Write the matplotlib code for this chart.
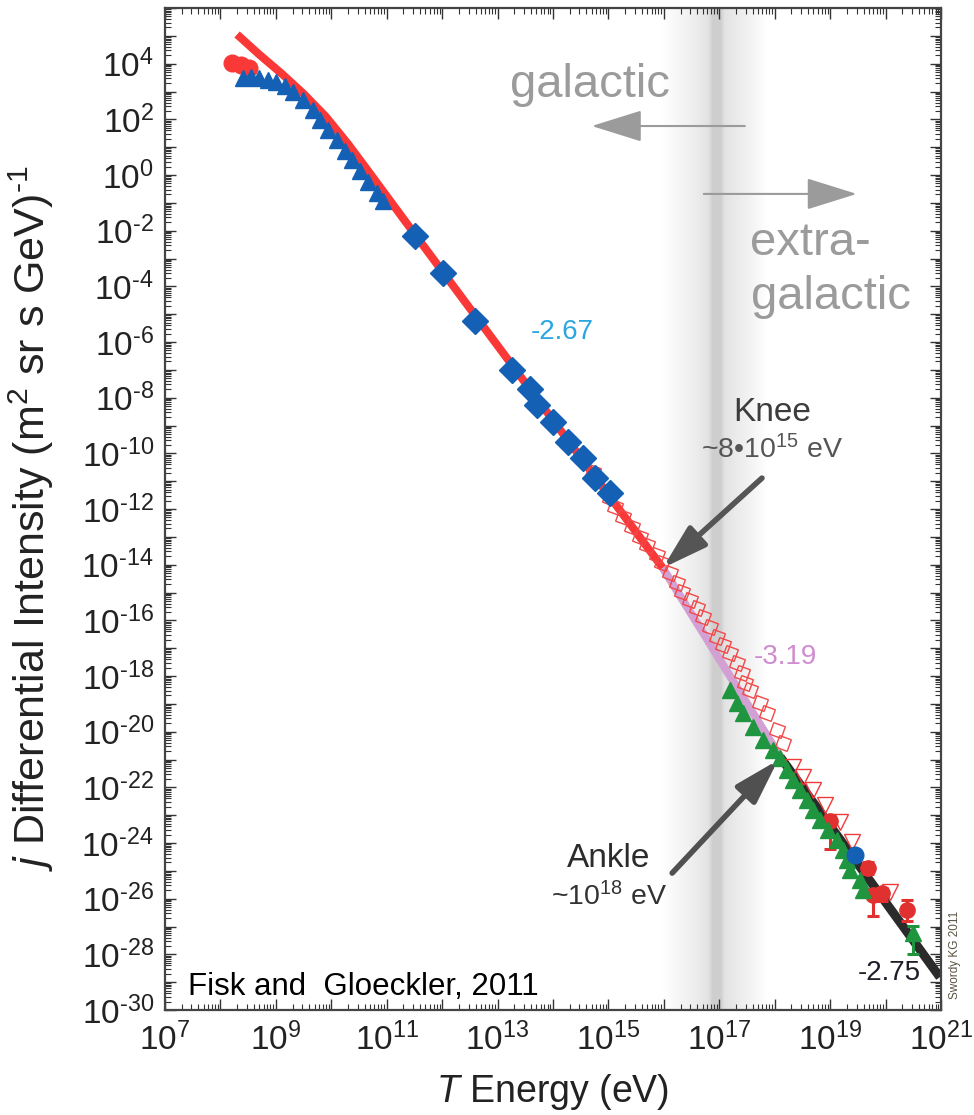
import numpy as np
import matplotlib
matplotlib.use("Agg")
import matplotlib.pyplot as plt
from matplotlib.ticker import LogLocator, FuncFormatter, NullFormatter

plt.rcParams['font.family'] = ['Liberation Sans', 'DejaVu Sans']
plt.rcParams['mathtext.fontset'] = 'custom'
plt.rcParams['mathtext.rm'] = 'Liberation Sans'
plt.rcParams['mathtext.it'] = 'Liberation Sans:italic'
plt.rcParams['mathtext.bf'] = 'Liberation Sans:bold'

# ---- spectrum data (log10 of energy in eV, log10 of intensity) ----
fit_low_logE = [8.30, 8.70, 9.10, 9.50, 9.90, 10.30, 10.70, 11.50, 12.50, 13.50, 14.50, 15.98]
fit_low_logJ = [5.05, 4.33, 3.65, 2.92, 2.10, 1.12, 0.05, -2.11, -4.79, -7.47, -10.15, -14.12]
fit_knee_logE = [15.98, 18.10]
fit_knee_logJ = [-14.12, -20.91]
fit_ankle_logE = [18.10, 20.98]
fit_ankle_logJ = [-20.91, -28.82]

circ_red_logE = [8.20, 8.38, 8.52]
circ_red_logJ = [4.03, 3.95, 3.85]

tri_blue_logE = [8.40, 8.55, 8.70, 8.85, 9.00, 9.16, 9.31, 9.49, 9.67, 9.80,
                 9.94, 10.10, 10.25, 10.37, 10.52, 10.66, 10.82, 10.93]
tri_blue_logJ = [3.50, 3.52, 3.47, 3.42, 3.35, 3.20, 3.00, 2.68, 2.32, 1.98,
                 1.62, 1.25, 0.85, 0.53, 0.15, -0.25, -0.65, -0.92]

dia_blue_logE = [11.51, 12.02, 12.59, 13.26, 13.58, 13.71, 14.00, 14.27, 14.54, 14.76, 15.03]
dia_blue_logJ = [-2.19, -3.52, -5.25, -7.01, -7.69, -8.27, -8.88, -9.60, -10.17, -10.89, -11.43]

sq_red_logE = [14.72, 14.79, 15.03, 15.12, 15.26, 15.43, 15.57, 15.70, 15.88, 15.97,
               16.11, 16.24, 16.33, 16.47, 16.60, 16.71, 16.83, 16.96, 17.07, 17.19,
               17.32, 17.41, 17.46, 17.55, 17.73, 17.86, 18.04, 18.15]
sq_red_logJ = [-10.67, -10.96, -11.61, -11.93, -12.29, -12.65, -13.01, -13.30, -13.65, -13.94,
               -14.30, -14.66, -14.98, -15.27, -15.56, -15.88, -16.24, -16.60, -16.89, -17.18,
               -17.54, -17.89, -18.25, -18.51, -18.97, -19.33, -19.94, -20.41]

tri_green_logE = [17.19, 17.32, 17.43, 17.61, 17.79, 17.97, 18.10, 18.22, 18.33, 18.46,
                  18.58, 18.69, 18.82, 18.96, 19.12, 19.23, 19.30, 19.36, 19.54, 19.59]
tri_green_logJ = [-18.51, -18.97, -19.33, -19.84, -20.30, -20.66, -20.95, -21.38, -21.74, -22.10,
                  -22.46, -22.82, -23.18, -23.54, -23.90, -24.25, -24.61, -24.97, -25.33, -25.69]
tri_green_err_logE = [20.49]
tri_green_err_logJ = [-27.24]
tri_green_err_lo = [0.75]
tri_green_err_hi = [0.25]

dtri_red_logE = [18.33, 18.51, 18.69, 18.91, 19.18, 19.39, 20.08]
dtri_red_logJ = [-21.27, -21.63, -22.10, -22.64, -23.25, -23.97, -25.76]

circ_err_logE = [19.00, 19.68, 19.77, 19.94, 20.39]
circ_err_logJ = [-23.20, -24.90, -25.87, -25.80, -26.41]
circ_err_lo = [1.00, 0.20, 0.75, 0.30, 0.40]
circ_err_hi = [0.20, 0.20, 0.20, 0.20, 0.35]

circ_blue_logE = [19.45]
circ_blue_logJ = [-24.43]


def dex(a):
    return 10.0 ** np.asarray(a, dtype=float)


RED = '#fb3838'
BLUE = '#1460b4'
GREEN = '#1f9540'
PINK = '#d3a0d3'
DARK = '#2b2b2b'
GREY_TXT = '#9b9b9b'

fig = plt.figure(figsize=(9.74, 11.15), dpi=100)
ax = fig.add_axes([165 / 974, 1 - 1010 / 1115, 776 / 974, 1002 / 1115])
ax.set_xscale('log')
ax.set_yscale('log')

# shaded transition band between galactic and extra-galactic origin
lo_band, hi_band = 15.97, 17.86
band_stops = [15.97, 16.50, 16.80, 16.88, 17.03, 17.10, 17.30, 17.55, 17.75, 17.86]
band_dark = [0.00, 0.06, 0.11, 0.19, 0.19, 0.11, 0.08, 0.05, 0.02, 0.00]
grid = np.linspace(lo_band, hi_band, 500)
shade = 1.0 - np.interp(grid, band_stops, band_dark)
img = np.dstack([shade, shade, shade])
x0 = (lo_band - 7) / 14.0
x1 = (hi_band - 7) / 14.0
ax.imshow(img, extent=[x0, x1, 0, 1], transform=ax.transAxes, aspect='auto',
          interpolation='bilinear', zorder=0)

# fitted power laws
ax.plot(dex(fit_low_logE), dex(fit_low_logJ), color=RED, lw=5.8, solid_capstyle='butt', zorder=2)
ax.plot(dex(fit_knee_logE), dex(fit_knee_logJ), color=PINK, lw=5.8, solid_capstyle='butt', zorder=2)
ax.plot(dex(fit_ankle_logE), dex(fit_ankle_logJ), color=DARK, lw=6.5, solid_capstyle='butt', zorder=2)

# measurements
ax.plot(dex(sq_red_logE), dex(sq_red_logJ), linestyle='none', marker=(4, 0, 25), ms=12.5,
        mfc='none', mec='#f24848', mew=1.0, zorder=3)
ax.plot(dex(circ_red_logE), dex(circ_red_logJ), linestyle='none', marker='o', ms=12,
        color=RED, zorder=3)
ax.plot(dex(tri_blue_logE), dex(tri_blue_logJ), linestyle='none', marker='^', ms=12,
        color=BLUE, zorder=4)
ax.plot(dex(dia_blue_logE), dex(dia_blue_logJ), linestyle='none', marker='D', ms=13,
        color=BLUE, zorder=4)
ax.plot(dex(dtri_red_logE), dex(dtri_red_logJ), linestyle='none', marker='v', ms=12,
        mfc='none', mec='#f03a3a', mew=1.0, zorder=3)

ce = np.asarray(circ_err_logJ)
yerr_c = [dex(ce) - dex(ce - np.asarray(circ_err_lo)), dex(ce + np.asarray(circ_err_hi)) - dex(ce)]
ax.errorbar(dex(circ_err_logE), dex(ce), yerr=yerr_c, fmt='o', ms=11, color='#e03030',
            ecolor='#e03030', elinewidth=2.2, capsize=4.5, capthick=2.2, zorder=4)

ax.plot(dex(tri_green_logE), dex(tri_green_logJ), linestyle='none', marker='^', ms=12,
        color=GREEN, zorder=5)
ge = np.asarray(tri_green_err_logJ)
yerr_g = [dex(ge) - dex(ge - np.asarray(tri_green_err_lo)), dex(ge + np.asarray(tri_green_err_hi)) - dex(ge)]
ax.errorbar(dex(tri_green_err_logE), dex(ge), yerr=yerr_g, fmt='^', ms=12, color=GREEN,
            ecolor=GREEN, elinewidth=2.2, capsize=4.5, capthick=2.2, zorder=5)

ax.plot(dex(circ_blue_logE), dex(circ_blue_logJ), linestyle='none', marker='o', ms=12,
        color=BLUE, zorder=6)

# axes, ticks and labels
ax.set_xlim(1e7, 1e21)
ax.set_ylim(1e-30, 1e6)
ax.xaxis.set_major_locator(LogLocator(base=10, numticks=40))
ax.yaxis.set_major_locator(LogLocator(base=10, numticks=60))
ax.xaxis.set_minor_locator(LogLocator(base=10, subs=np.arange(2, 10), numticks=40))
ax.yaxis.set_minor_locator(LogLocator(base=10, subs=np.arange(2, 10), numticks=60))


def power_label(n):
    if n < 0:
        return r'$10^{\text{-}%d}$' % (-n)
    return r'$10^{%d}$' % n


def x_fmt(v, pos):
    n = int(round(np.log10(v)))
    return power_label(n) if n % 2 == 1 else ''


def y_fmt(v, pos):
    n = int(round(np.log10(v)))
    return power_label(n) if (n % 2 == 0 and n <= 4) else ''


ax.xaxis.set_major_formatter(FuncFormatter(x_fmt))
ax.yaxis.set_major_formatter(FuncFormatter(y_fmt))
ax.xaxis.set_minor_formatter(NullFormatter())
ax.yaxis.set_minor_formatter(NullFormatter())
ax.tick_params(which='both', direction='in', top=True, right=True, color='#333333')
ax.tick_params(which='major', length=8, width=1.0, labelsize=24, labelcolor='#222222')
ax.tick_params(which='minor', length=4, width=0.8)
ax.tick_params(axis='y', which='major', pad=8)
ax.tick_params(axis='x', which='major', pad=9)
for s in ax.spines.values():
    s.set_color('#444444')
    s.set_linewidth(1.6)

ax.set_xlabel(r'$\mathit{T}$ Energy (eV)', fontsize=27, color='#222222')
ax.set_ylabel(r'$\mathit{j}$ Differential Intensity (m$^{2}$ sr s GeV)$^{\text{-}1}$', fontsize=31,
              color='#222222')
ax.xaxis.set_label_coords(0.5, -0.062)
ax.yaxis.set_label_coords(-0.140, 0.491)

# annotations
ax.text(dex(14.67), dex(3.23), 'galactic', fontsize=34, color=GREY_TXT, ha='center', va='center')
ax.annotate('', xy=(dex(14.70), dex(1.76)), xytext=(dex(17.46), dex(1.76)),
            arrowprops=dict(arrowstyle='-|>,head_length=1.6,head_width=0.5', color=GREY_TXT,
                            lw=1.5, shrinkA=0, shrinkB=0, mutation_scale=20))
ax.annotate('', xy=(dex(19.48), dex(-0.68)), xytext=(dex(16.72), dex(-0.68)),
            arrowprops=dict(arrowstyle='-|>,head_length=1.6,head_width=0.5', color=GREY_TXT,
                            lw=1.5, shrinkA=0, shrinkB=0, mutation_scale=20))
ax.text(dex(17.55), dex(-2.44), 'extra-', fontsize=34, color=GREY_TXT, ha='left', va='center')
ax.text(dex(17.57), dex(-4.38), 'galactic', fontsize=34, color=GREY_TXT, ha='left', va='center')

ax.text(dex(14.16), dex(-5.64), '-2.67', fontsize=20, color='#2aa6e0', ha='center', va='center',
        zorder=8)
ax.text(dex(18.19), dex(-17.32), '-3.19', fontsize=20, color='#d08cd0', ha='center', va='center',
        zorder=8)
ax.text(dex(20.06), dex(-28.67), '-2.75', fontsize=20, color='#1e1e2a', ha='center', va='center',
        zorder=8)

ax.text(dex(17.95), dex(-8.52), 'Knee', fontsize=24, color='#3c3c3c', ha='center', va='center')
ax.text(dex(17.95), dex(-9.88), r'~8•10$^{15}$ eV', fontsize=20.5, color='#555555',
        ha='center', va='center')
ax.annotate('', xy=(dex(15.98), dex(-14.12)), xytext=(dex(17.77), dex(-10.89)),
            arrowprops=dict(arrowstyle='-|>,head_length=1.5,head_width=0.45', color='#555555',
                            lw=4.0, shrinkA=0, shrinkB=0, mutation_scale=18), zorder=7)

ax.text(dex(15.01), dex(-24.54), 'Ankle', fontsize=24, color='#2c2c2c', ha='center', va='center')
ax.text(dex(15.01), dex(-25.94), r'~10$^{18}$ eV', fontsize=20.5, color='#333333',
        ha='center', va='center')
ax.annotate('', xy=(dex(18.06), dex(-21.02)), xytext=(dex(16.15), dex(-25.08)),
            arrowprops=dict(arrowstyle='-|>,head_length=1.5,head_width=0.45', color='#505050',
                            lw=4.0, shrinkA=0, shrinkB=0, mutation_scale=18), zorder=7)

ax.text(dex(7.41), dex(-29.47), 'Fisk and  Gloeckler, 2011', fontsize=22.5, color='black',
        ha='left', va='baseline', zorder=8)
fig.text(955 / 974, 1 - 955 / 1115, 'Swordy KG 2011', fontsize=8.5, color='#5a5242',
         rotation=90, ha='center', va='center')

fig.savefig('out.png', dpi=100)
